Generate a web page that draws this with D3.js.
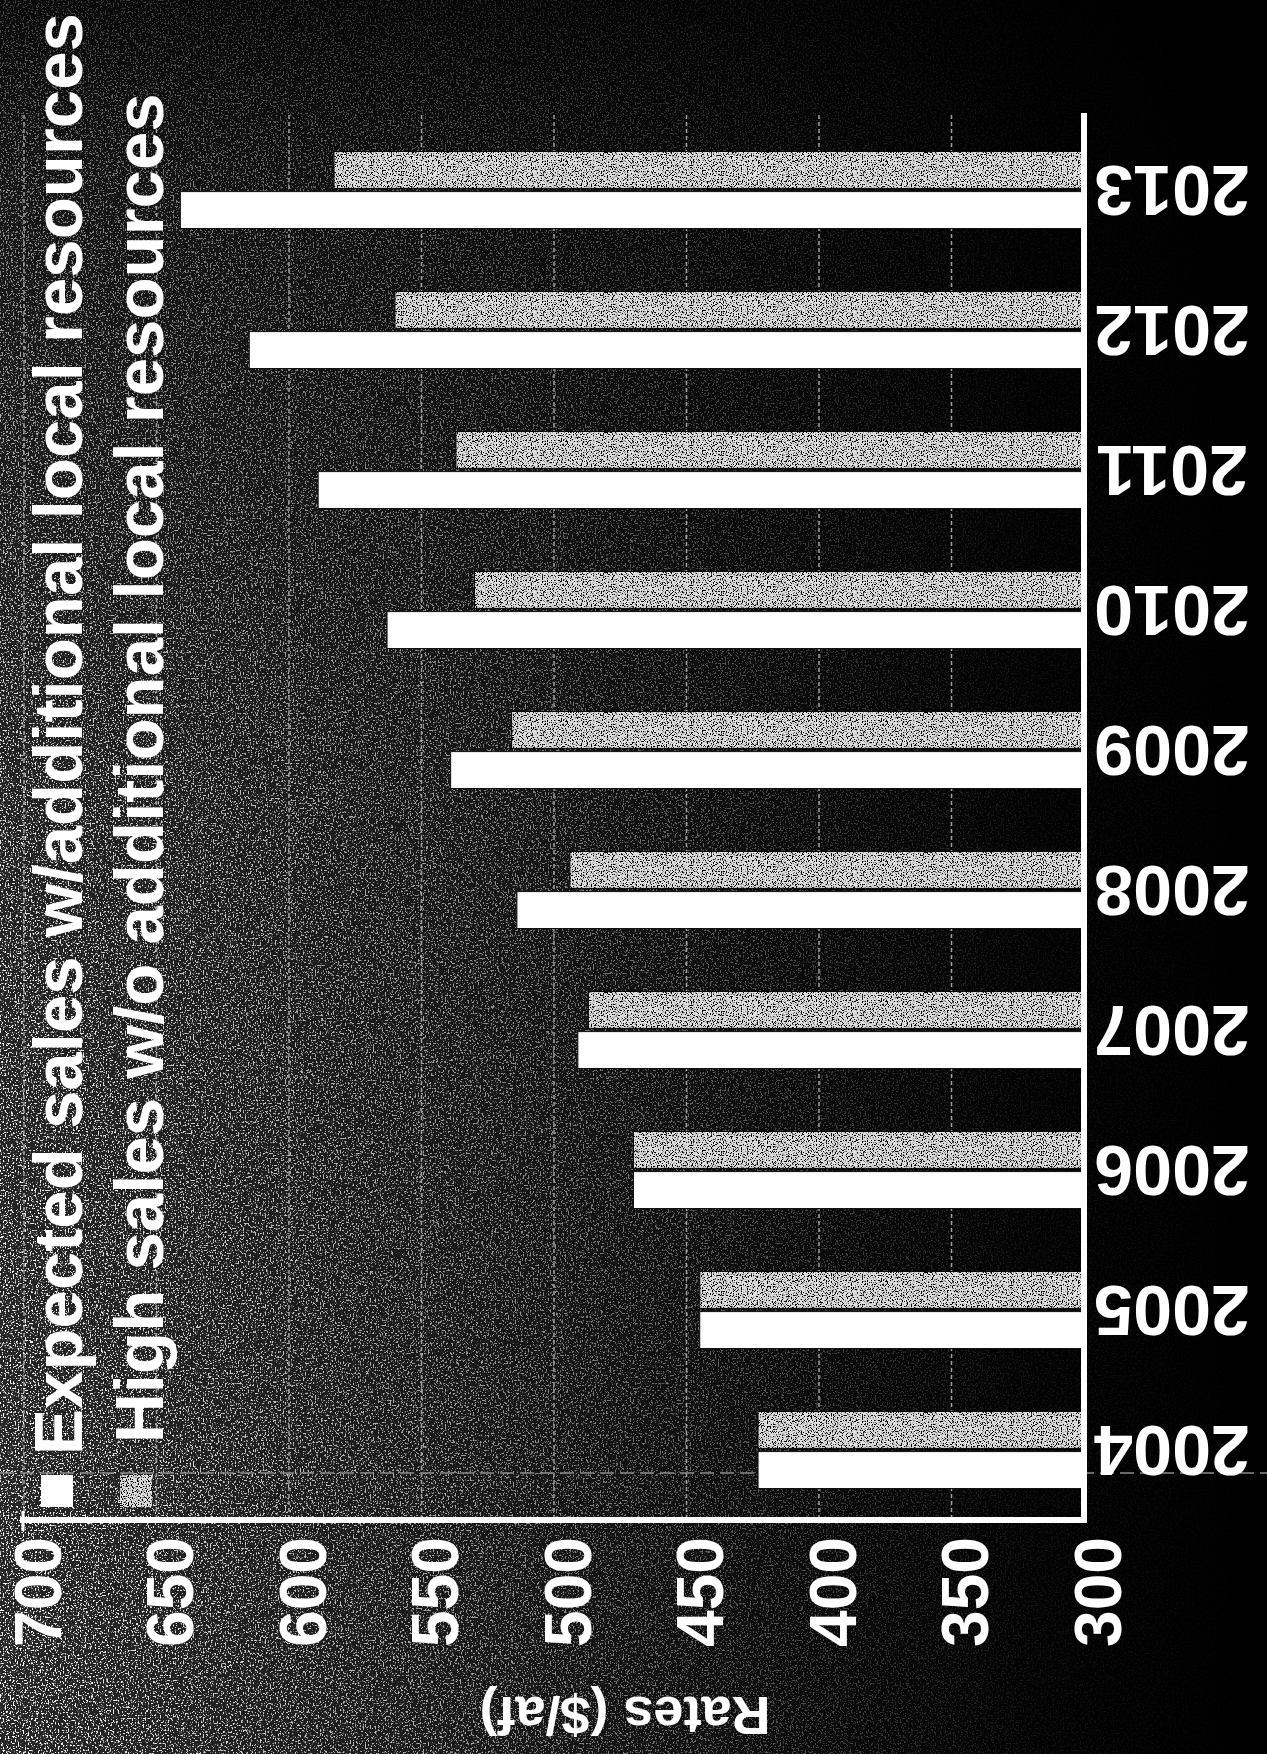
<!DOCTYPE html>
<html>
<head>
<meta charset="utf-8">
<script src="https://cdn.jsdelivr.net/npm/d3@7/dist/d3.min.js"></script>
<style>
  html, body { margin: 0; padding: 0; background: #000; }
  svg { display: block; }
  text { font-family: "Liberation Sans", Arial, Helvetica, sans-serif; font-weight: bold; fill: #fff; }
</style>
</head>
<body>
<svg id="chart" width="1267" height="1754"></svg>
<script>
// Water rates by year, two sales scenarios ($/af)
const years = ["2004", "2005", "2006", "2007", "2008", "2009", "2010", "2011", "2012", "2013"];
const expectedSales = [423, 445, 470, 491, 514, 539, 563, 589, 615, 641];
const highSales     = [423, 445, 470, 487, 494, 516, 530, 537, 560, 583];
const rateTicks = [300, 350, 400, 450, 500, 550, 600, 650, 700];
const seriesNames = ["High sales w/o additional local resources", "Expected sales w/additional local resources"];
const legendLabels = ["Expected sales w/additional local resources", "High sales w/o additional local resources"];
const axisTitle = "Rates ($/af)";

const W = 1267, H = 1754;
const svg = d3.select("#chart");
const defs = svg.append("defs");

// ---- background: dark page with grainy grey haze on the left ----
const fadeX = defs.append("linearGradient").attr("id", "fadeX")
  .attr("x1", 0).attr("x2", 1).attr("y1", 0).attr("y2", 0);
[[0, 1], [0.12, 0.9], [0.35, 0.7], [0.55, 0.45], [0.7, 0.22], [0.82, 0.06], [1, 0]]
  .forEach(([o, v]) => fadeX.append("stop").attr("offset", o).attr("stop-color", d3.gray(v * 100)));
const fadeTop = defs.append("linearGradient").attr("id", "fadeTop")
  .attr("x1", 0).attr("x2", 0).attr("y1", 0).attr("y2", 1);
fadeTop.append("stop").attr("offset", 0).attr("stop-color", "#000").attr("stop-opacity", 0.75);
fadeTop.append("stop").attr("offset", 0.1).attr("stop-color", "#000").attr("stop-opacity", 0.45);
fadeTop.append("stop").attr("offset", 0.45).attr("stop-color", "#000").attr("stop-opacity", 0.1);
fadeTop.append("stop").attr("offset", 1).attr("stop-color", "#000").attr("stop-opacity", 0);

const mask = defs.append("mask").attr("id", "hazeMask")
  .attr("maskUnits", "userSpaceOnUse").attr("x", 0).attr("y", 0).attr("width", W).attr("height", H);
mask.append("rect").attr("width", W).attr("height", H).attr("fill", "url(#fadeX)");
mask.append("rect").attr("width", W).attr("height", H).attr("fill", "url(#fadeTop)");

const grain = defs.append("filter").attr("id", "grain")
  .attr("filterUnits", "userSpaceOnUse").attr("x", 0).attr("y", 0).attr("width", W).attr("height", H);
grain.append("feTurbulence").attr("type", "fractalNoise").attr("baseFrequency", 0.6)
  .attr("numOctaves", 2).attr("seed", 4).attr("result", "noise");
grain.append("feColorMatrix").attr("in", "noise").attr("type", "matrix")
  .attr("values", "0 0 0 0 1  0 0 0 0 1  0 0 0 0 1  10 0 0 0 -5.6");

// speckle for the grey bars
const speck = defs.append("filter").attr("id", "speck");
speck.append("feTurbulence").attr("type", "fractalNoise").attr("baseFrequency", 0.8)
  .attr("numOctaves", 2).attr("seed", 9).attr("result", "t");
speck.append("feColorMatrix").attr("in", "t").attr("type", "matrix")
  .attr("values", "0 0 0 0 0  0 0 0 0 0  0 0 0 0 0  9 0 0 0 -4.6").attr("result", "dots");
speck.append("feComposite").attr("in", "dots").attr("in2", "SourceGraphic").attr("operator", "in").attr("result", "d2");
const merge = speck.append("feMerge");
merge.append("feMergeNode").attr("in", "SourceGraphic");
merge.append("feMergeNode").attr("in", "d2");

svg.append("rect").attr("width", W).attr("height", H).attr("fill", "#000");
const haze = svg.append("g").attr("mask", "url(#hazeMask)");
haze.append("rect").attr("width", W).attr("height", H).attr("fill", "#262626");
haze.append("rect").attr("width", W).attr("height", H).attr("fill", "#fff").attr("filter", "url(#grain)");

// ---- scales ----
const x = d3.scaleLinear().domain([300, 700]).range([1084, 24]);
const y = d3.scaleBand().domain(years).range([1520, 120]).paddingInner(0.45).paddingOuter(0.225);
const ySeries = d3.scaleBand().domain(seriesNames).range([0, y.bandwidth()]).paddingInner(0.08);
const fills = { [seriesNames[0]]: "#dedede", [seriesNames[1]]: "#ffffff" };

// gridlines
svg.append("g").selectAll("line").data(rateTicks.filter(v => v > 300)).join("line")
  .attr("x1", d => x(d)).attr("x2", d => x(d))
  .attr("y1", 115).attr("y2", 1520)
  .attr("stroke", "#a0a0a0").attr("stroke-width", 1.5).attr("stroke-dasharray", "4,3");

// faint horizontal guide line through the lowest group
svg.append("line").attr("x1", 0).attr("x2", W).attr("y1", 1473).attr("y2", 1473)
  .attr("stroke", "#8a8a8a").attr("stroke-width", 1.5).attr("stroke-dasharray", "14,6");

// ---- bars ----
const rows = years.map((yr, i) => ({ year: yr, values: [
  { key: seriesNames[0], v: highSales[i] },
  { key: seriesNames[1], v: expectedSales[i] }
]}));
const groups = svg.append("g").selectAll("g").data(rows).join("g")
  .attr("transform", d => `translate(0,${y(d.year)})`);
groups.selectAll("rect").data(d => d.values).join("rect")
  .attr("x", d => x(d.v))
  .attr("y", d => ySeries(d.key))
  .attr("width", d => x(300) - x(d.v))
  .attr("height", ySeries.bandwidth())
  .attr("fill", d => fills[d.key])
  .attr("stroke", "#111").attr("stroke-width", 1)
  .attr("filter", d => d.key === seriesNames[0] ? "url(#speck)" : null);

// ---- value axis (along the bottom) ----
const xAxis = svg.append("g").attr("transform", "translate(0,1520)")
  .call(d3.axisBottom(x).tickValues(rateTicks).tickSize(0));
xAxis.select(".domain").remove();
xAxis.selectAll("text")
  .attr("x", null).attr("y", null).attr("dy", null)
  .attr("transform", "translate(13,72) rotate(-90)")
  .attr("text-anchor", "middle").attr("dominant-baseline", "central")
  .style("font-size", "66px").style("font-family", "'Liberation Sans', Arial, sans-serif")
  .style("font-weight", "bold").attr("fill", "#fff");
svg.append("line").attr("x1", 20).attr("x2", 1087).attr("y1", 1520).attr("y2", 1520)
  .attr("stroke", "#fff").attr("stroke-width", 6);
svg.append("line").attr("x1", 23).attr("x2", 23).attr("y1", 1511).attr("y2", 1531)
  .attr("stroke", "#fff").attr("stroke-width", 3);

// ---- category axis (along the right) ----
const yAxis = svg.append("g").attr("transform", "translate(1084,0)")
  .call(d3.axisRight(y).tickSize(0));
yAxis.select(".domain").remove();
yAxis.selectAll("text")
  .attr("x", null).attr("dy", null)
  .attr("transform", "translate(88,0) rotate(180)")
  .attr("text-anchor", "middle").attr("dominant-baseline", "central")
  .style("font-size", "70px").style("font-family", "'Liberation Sans', Arial, sans-serif")
  .style("font-weight", "bold").attr("fill", "#fff");
svg.append("line").attr("x1", 1084).attr("x2", 1084).attr("y1", 113).attr("y2", 1523)
  .attr("stroke", "#fff").attr("stroke-width", 6);

// axis title
svg.append("text").attr("transform", "translate(625,1716) rotate(180)")
  .attr("text-anchor", "middle").attr("dominant-baseline", "central")
  .style("font-size", "54px").text(axisTitle);

// ---- legend ----
const legendPos = [{ sx: 41, tx: 82, ty: 1455, fill: "#fff", speck: false },
                   { sx: 120, tx: 163, ty: 1443, fill: "#dedede", speck: true }];
const legend = svg.append("g").selectAll("g").data(legendLabels).join("g");
legend.append("rect")
  .attr("x", (d, i) => legendPos[i].sx).attr("y", 1475)
  .attr("width", 32).attr("height", 32)
  .attr("fill", (d, i) => legendPos[i].fill)
  .attr("filter", (d, i) => legendPos[i].speck ? "url(#speck)" : null);
legend.append("text")
  .attr("transform", (d, i) => `translate(${legendPos[i].tx},${legendPos[i].ty}) rotate(-90)`)
  .attr("text-anchor", "start")
  .style("font-size", "69px")
  .text(d => d);
</script>
</body>
</html>
